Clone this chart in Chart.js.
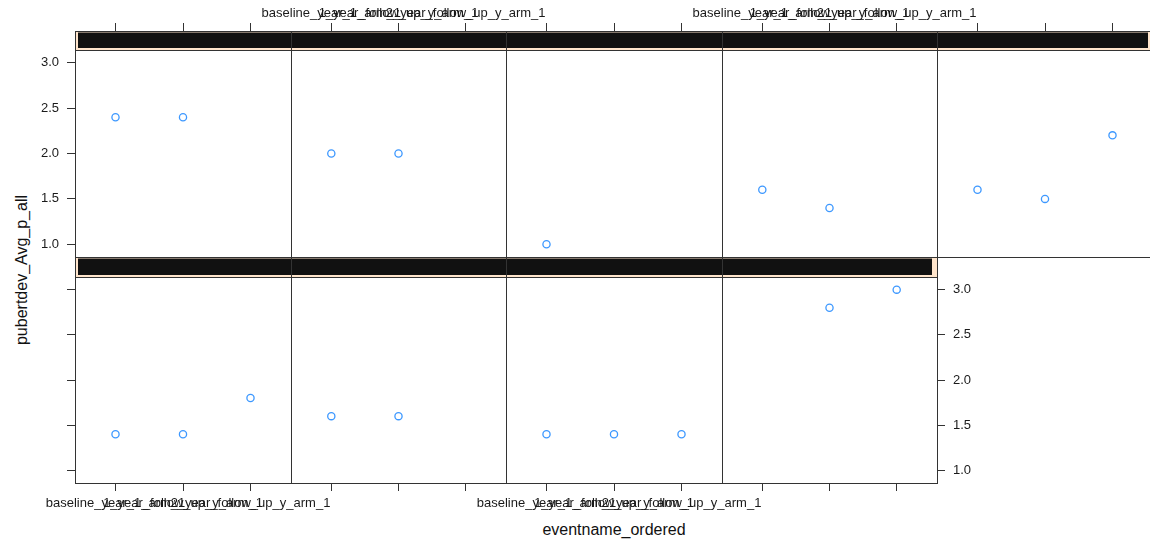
<!DOCTYPE html>
<html>
<head>
<meta charset="utf-8">
<script src="https://cdn.jsdelivr.net/npm/chart.js@4.4.1/dist/chart.umd.min.js"></script>
<style>
  body { margin: 0; background: #fff; }
  #wrap { position: relative; width: 1150px; height: 540px; overflow: hidden; font-family: "Liberation Sans", Arial, sans-serif; }
  #wrap canvas { position: absolute; left: 0; top: 0; }
  .titulo { position: absolute; color: #111; font-size: 16px; white-space: nowrap; transform: translate(-50%, -50%); }
  #yt { transform: translate(-50%, -50%) rotate(-90deg); }
</style>
</head>
<body>
<div id="wrap">
  <div class="titulo" id="xt" style="left:614px; top:530px;">eventname_ordered</div>
  <div class="titulo" id="yt" style="left:22px; top:270px;">pubertdev_Avg_p_all</div>
</div>
<script>
// categorias do eixo x
const categories = ['baseline_year_1_arm_1', '1_year_follow_up_y_arm_1', '2_year_follow_up_y_arm_1'];
const yTicks = [1.0, 1.5, 2.0, 2.5, 3.0];

// linha de cima, da esquerda para a direita
const painel1 = [2.4, 2.4, null];
const painel2 = [2.0, 2.0, null];
const painel3 = [1.0, null, null];
const painel4 = [1.6, 1.4, null];
const painel5 = [1.6, 1.5, 2.2];
// linha de baixo
const painel6 = [1.4, 1.4, 1.8];
const painel7 = [1.6, 1.6, null];
const painel8 = [1.4, 1.4, 1.4];
const painel9 = [null, 2.8, 3.0];

const linhas = [[painel1, painel2, painel3, painel4, painel5], [painel6, painel7, painel8, painel9]];

// geometria dos paineis
const colunas = [75, 291, 506, 722, 937, 1153];
const faixas = [
  { stripTop: 31, top: 50, bottom: 257 },
  { stripTop: 257, top: 277, bottom: 483 }
];
const W = 1200, H = 540;

Chart.defaults.font.family = '"Liberation Sans", Arial, sans-serif';
Chart.defaults.font.size = 13;
Chart.defaults.color = '#1a1a1a';

const molduraPlugin = {
  id: 'moldura',
  afterDraw(chart, args, opts) {
    const ctx = chart.ctx;
    const ca = chart.chartArea;
    const f = opts.faixa;
    ctx.save();
    // strip
    ctx.fillStyle = '#ffe5cc';
    ctx.fillRect(ca.left, f.stripTop, ca.right - ca.left, f.top - f.stripTop);
    const x0 = opts.primeiro ? ca.left + 3 : ca.left;
    const x1 = opts.ultimo ? ca.right - 5 : ca.right;
    ctx.fillStyle = '#111111';
    ctx.fillRect(x0, f.stripTop + 1.5, x1 - x0, f.top - f.stripTop - 3.5);
    ctx.strokeStyle = '#333';
    ctx.lineWidth = 1;
    ctx.strokeRect(ca.left + 0.5, f.stripTop + 0.5, ca.right - ca.left, f.top - f.stripTop);
    // borda do painel
    ctx.strokeRect(ca.left + 0.5, ca.top + 0.5, ca.right - ca.left, ca.bottom - ca.top);
    ctx.restore();
  }
};

function criaPainel(valores, r, c) {
  const nCols = linhas[r].length;
  const left = colunas[c], right = colunas[c + 1];
  const f = faixas[r];
  const canvas = document.createElement('canvas');
  canvas.width = W;
  canvas.height = H;
  document.getElementById('wrap').appendChild(canvas);

  const pontos = [];
  valores.forEach((v, i) => { if (v !== null) pontos.push({ x: i + 1, y: v }); });

  const ticksX = s => { s.ticks = categories.map((_, i) => ({ value: i + 1 })); };
  const ticksY = s => { s.ticks = yTicks.map(v => ({ value: v })); };

  new Chart(canvas, {
    type: 'scatter',
    data: {
      datasets: [{
        data: pontos,
        xAxisID: 'x',
        yAxisID: 'y',
        pointStyle: 'circle',
        pointRadius: 3.6,
        borderWidth: 1.3,
        borderColor: '#3d98ff',
        backgroundColor: 'rgba(0,0,0,0)'
      }]
    },
    options: {
      responsive: false,
      animation: false,
      events: [],
      layout: { padding: 0, autoPadding: false },
      plugins: {
        legend: { display: false },
        tooltip: { enabled: false },
        moldura: { faixa: f, primeiro: c === 0, ultimo: c === nCols - 1 }
      },
      scales: {
        x: {
          type: 'linear', position: 'bottom', min: 0.4, max: 3.6,
          afterFit: s => { s.height = H - f.bottom; },
          afterBuildTicks: ticksX,
          border: { display: false },
          grid: { display: r === 1, drawOnChartArea: false, tickLength: 8, color: '#333' },
          ticks: {
            display: r === 1 && c % 2 === 0,
            callback: v => categories[v - 1],
            autoSkip: false, maxRotation: 0, minRotation: 0, padding: 5
          }
        },
        x2: {
          type: 'linear', position: 'top', min: 0.4, max: 3.6,
          afterFit: s => { s.height = f.top; },
          afterBuildTicks: ticksX,
          border: { display: false },
          grid: { display: r === 0, drawOnChartArea: false, tickLength: 27, color: '#333' },
          ticks: {
            display: r === 0 && c % 2 === 1,
            callback: v => categories[v - 1],
            autoSkip: false, maxRotation: 0, minRotation: 0, padding: 2
          }
        },
        y: {
          type: 'linear', position: 'left', min: 0.86, max: 3.14,
          afterFit: s => { s.width = left; },
          afterBuildTicks: ticksY,
          border: { display: false },
          grid: { display: c === 0, drawOnChartArea: false, tickLength: 8, color: '#333' },
          ticks: { display: c === 0 && r === 0, callback: v => v.toFixed(1), padding: 8 }
        },
        y2: {
          type: 'linear', position: 'right', min: 0.86, max: 3.14,
          afterFit: s => { s.width = W - right; },
          afterBuildTicks: ticksY,
          border: { display: false },
          grid: { display: c === nCols - 1, drawOnChartArea: false, tickLength: 8, color: '#333' },
          ticks: { display: c === nCols - 1, callback: v => v.toFixed(1), padding: 8 }
        }
      }
    },
    plugins: [molduraPlugin]
  });
}

linhas.forEach((linha, r) => linha.forEach((valores, c) => criaPainel(valores, r, c)));
</script>
</body>
</html>
